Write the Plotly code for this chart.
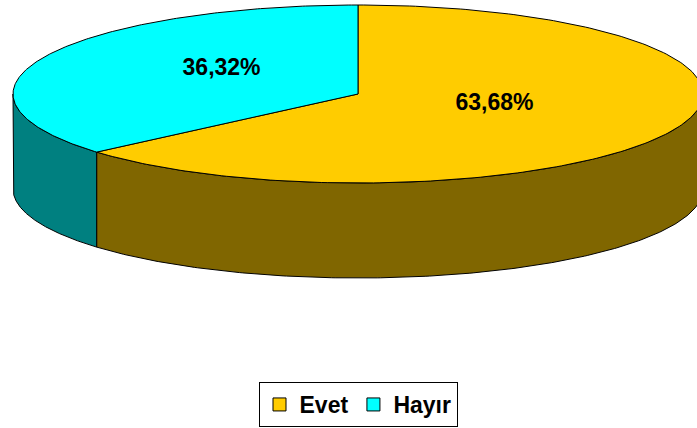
import numpy as np
import plotly.graph_objects as go

# ---- data ----
labels = ["Evet", "Hayır"]
values = [63.68, 36.32]
value_text = ["63,68%", "36,32%"]
top_colors = ["#FFCC00", "#00FFFF"]
side_colors = ["#806600", "#008080"]

# ---- layout constants (pixel space) ----
W, H = 697, 428
CX, CY = 358, 94        # centre of top ellipse
RX, RY = 345, 89        # radii of top ellipse
DEPTH = 95              # thickness of the pie
LABEL_R = 0.435
LABEL_DY = -7
FONT = "Arial, Liberation Sans, sans-serif"


def arc(a, b, dz=0, n=240):
    t = np.radians(np.linspace(a, b, n))
    return CX + RX * np.sin(t), CY - RY * np.cos(t) + dz


fracs = np.array(values) / sum(values)
ends = np.cumsum(fracs) * 360
starts = np.concatenate([[0], ends[:-1]])

fig = go.Figure()

# side walls (front half only: 90..270 degrees clockwise from top)
for i in range(len(values)):
    a = max(starts[i], 90)
    b = min(ends[i], 270)
    if b <= a:
        continue
    xt, yt = arc(a, b)
    xb, yb = arc(b, a, DEPTH)
    xs = np.concatenate([xt, xb, xt[:1]])
    ys = np.concatenate([yt, yb, yt[:1]])
    fig.add_trace(go.Scatter(x=xs, y=ys, mode="lines", fill="toself",
                             fillcolor=side_colors[i],
                             line=dict(color="black", width=1),
                             showlegend=False, hoverinfo="skip"))

# top faces
for i in range(len(values)):
    xt, yt = arc(starts[i], ends[i])
    xs = np.concatenate([[CX], xt, [CX]])
    ys = np.concatenate([[CY], yt, [CY]])
    fig.add_trace(go.Scatter(x=xs, y=ys, mode="lines", fill="toself",
                             fillcolor=top_colors[i],
                             line=dict(color="black", width=1),
                             showlegend=False, hoverinfo="skip"))

# labels
mids = np.radians((starts + ends) / 2)
lx = CX + LABEL_R * RX * np.sin(mids)
ly = CY - 0.47 * RY * np.cos(mids) + LABEL_DY
fig.add_trace(go.Scatter(x=lx, y=ly, mode="text", text=value_text,
                         textfont=dict(family=FONT, size=23, color="black", weight="bold"),
                         showlegend=False, hoverinfo="skip"))

# legend entries
for i in range(len(values)):
    fig.add_trace(go.Scatter(x=[None], y=[None], mode="markers", name=labels[i],
                             marker=dict(symbol="square", size=13, color=top_colors[i],
                                         line=dict(color="black", width=1))))

fig.update_layout(
    width=W, height=H,
    margin=dict(l=0, r=0, t=0, b=0),
    paper_bgcolor="white", plot_bgcolor="white",
    xaxis=dict(range=[0, W], visible=False, fixedrange=True),
    yaxis=dict(range=[H, 0], visible=False, fixedrange=True),
    showlegend=True,
    legend=dict(orientation="h", x=358 / W, xanchor="center",
                y=(H - 427) / H, yanchor="bottom",
                bordercolor="black", borderwidth=1, bgcolor="white",
                font=dict(family=FONT, size=23, color="black", weight="bold"),
                itemwidth=30, itemsizing="trace", tracegroupgap=0),
    hovermode=False,
)

fig.write_html("out.html", config={"displayModeBar": False},
               post_script="document.body.style.margin='0';document.body.style.overflow='hidden';")
